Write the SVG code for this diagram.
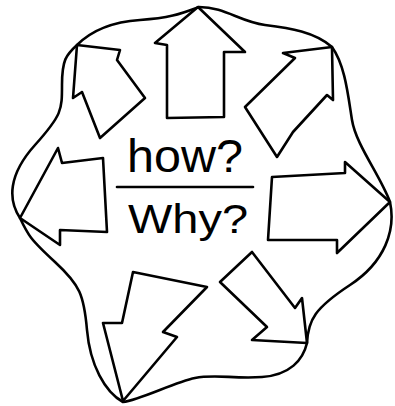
<svg xmlns="http://www.w3.org/2000/svg" width="395" height="406" viewBox="0 0 395 406">
<style>
.ln{fill:none;stroke:#000;stroke-width:2.6;stroke-linejoin:round;stroke-linecap:round}
.ar{fill:#fff;stroke:#000;stroke-width:2.6;stroke-linejoin:round}
.tx{font-family:"Liberation Sans","DejaVu Sans",sans-serif;fill:#000}
</style>
<rect width="395" height="406" fill="#fff"/>
<g id="blob">
<path class="ln" d="M199,7 C225,7 240,22 265,25 S315,32 332,47 C345,65 348,95 352,120 S380,175 390,202 C396,230 385,262 350,285 S308,320 307,343 C303,360 290,375 262,377 S215,374 195,378 S140,400 123,402 C105,392 90,365 87,330 S80,285 55,262 S28,235 20,218 C8,200 8,175 35,145 S62,110 62,85 S66,55 77,45 C90,32 110,22 140,20 S180,14 199,7 Z"/>
</g>
<g id="arrow-up"><polygon class="ar" points="198,7 245,52 224,52 224,117 167,118 167,45 155,43"/></g>
<g id="arrow-upright"><polygon class="ar" points="332,47 283,53 295,58 245,107 277,157 293,132 327,95 333,100"/></g>
<g id="arrow-right"><polygon class="ar" points="272,177 345,173 345,162 390,202 337,253 337,240 268,240"/></g>
<g id="arrow-downright"><polygon class="ar" points="220,282 252,252 295,308 302,298 307,343 252,340 267,327"/></g>
<g id="arrow-downleft"><polygon class="ar" points="123,401 103,323 122,323 133,272 207,287 163,332 177,337"/></g>
<g id="arrow-left"><polygon class="ar" points="20,218 58,148 62,163 103,158 107,232 60,230 60,245"/></g>
<g id="arrow-upleft"><polygon class="ar" points="77,45 120,50 117,60 145,98 100,138 82,92 73,98"/></g>
<g id="label">
<text class="tx" x="127" y="172" font-size="47" textLength="116" lengthAdjust="spacingAndGlyphs">how?</text>
<line class="ln" x1="117" y1="187" x2="253" y2="187"/>
<text class="tx" x="128" y="233" font-size="40" textLength="120" lengthAdjust="spacingAndGlyphs">Why?</text>
</g>
</svg>
